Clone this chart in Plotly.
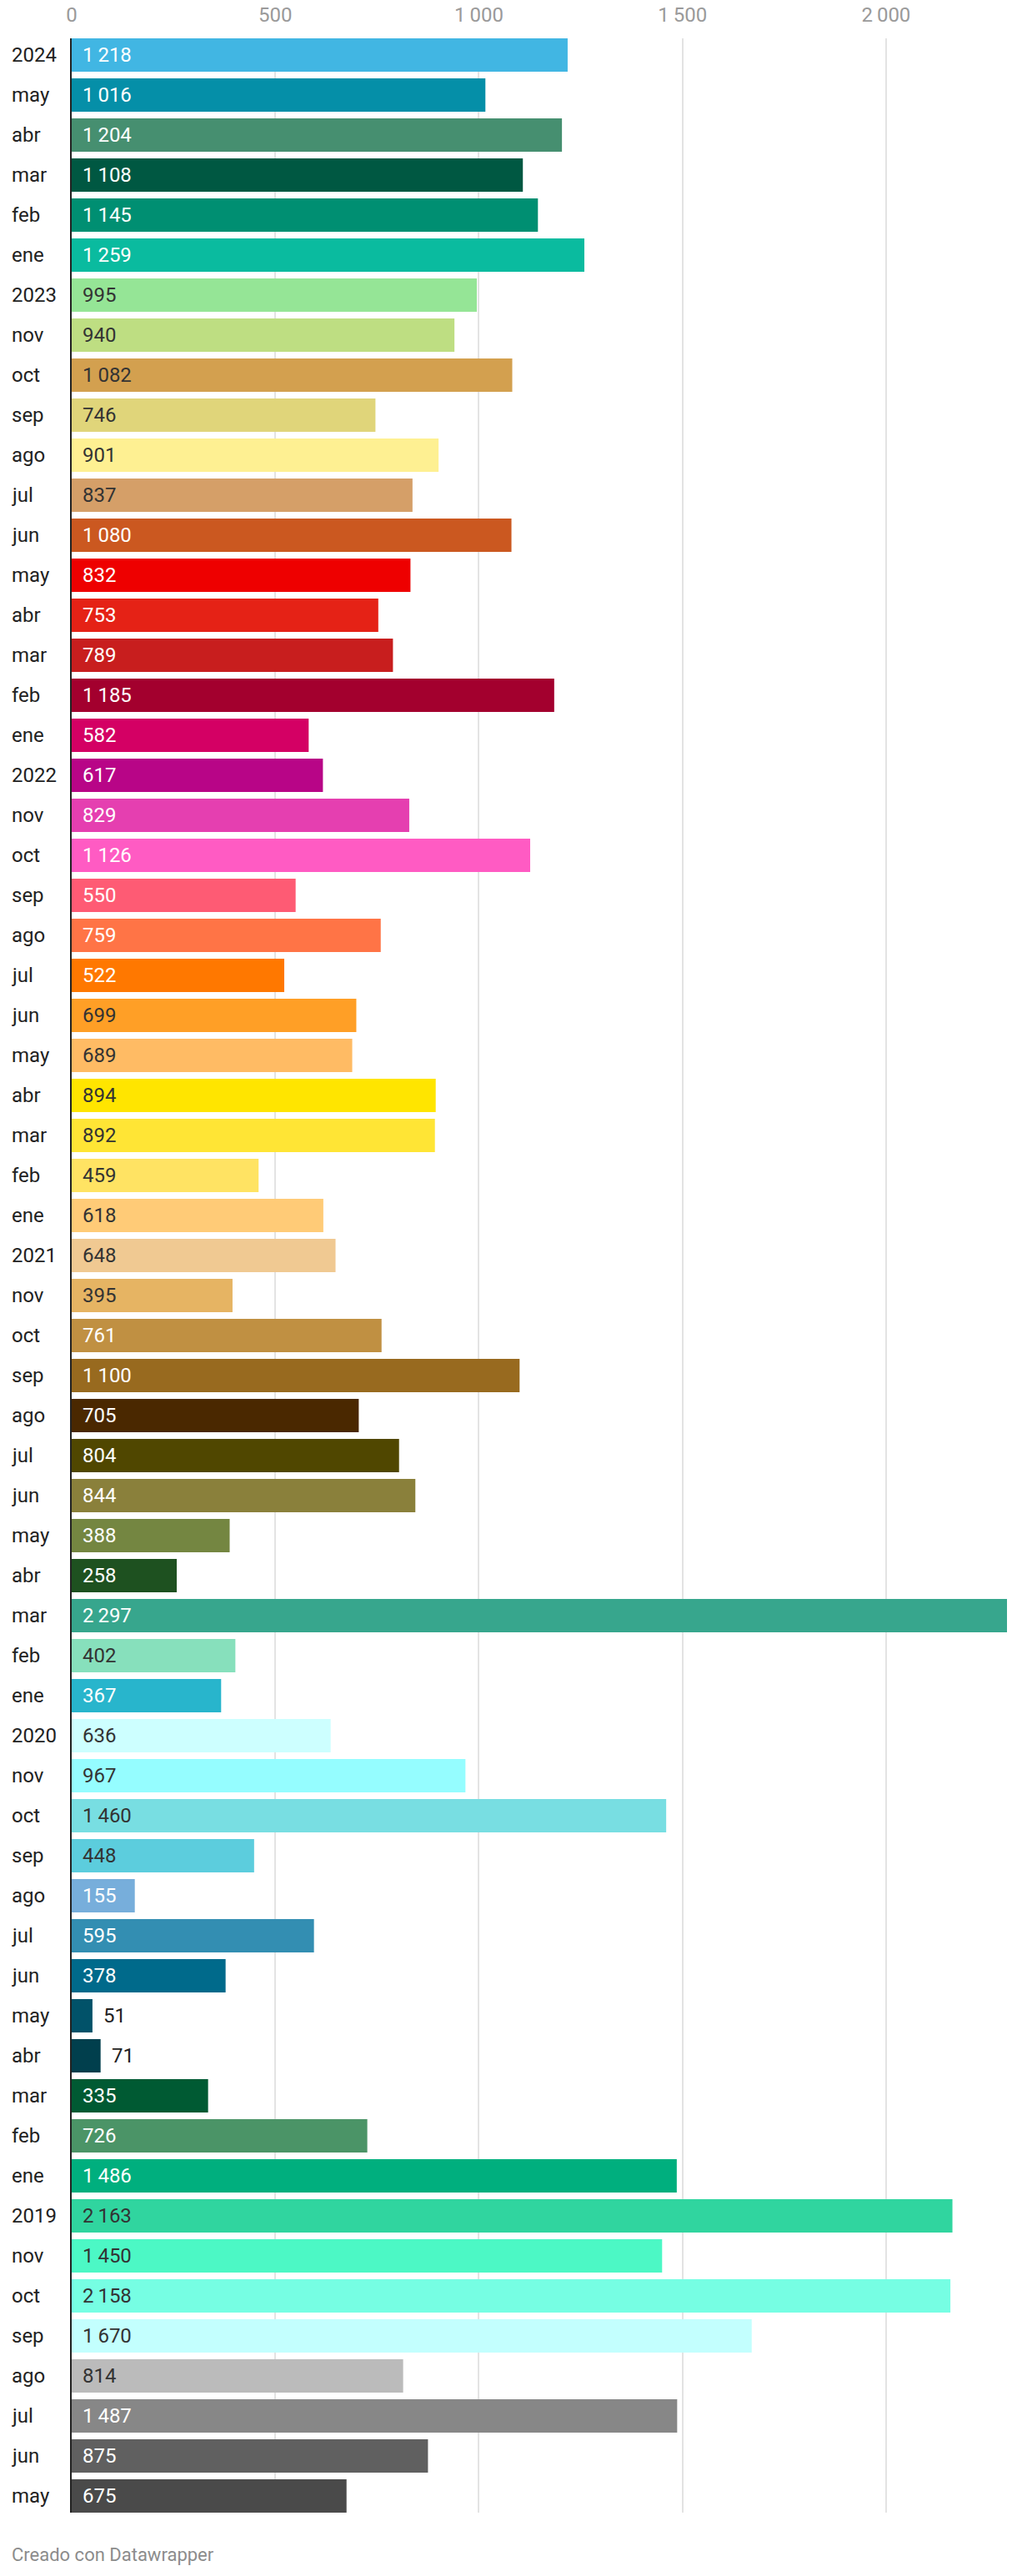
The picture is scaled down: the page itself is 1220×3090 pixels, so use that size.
import plotly.graph_objects as go

labels = ["2024", "may", "abr", "mar", "feb", "ene",
          "2023", "nov", "oct", "sep", "ago", "jul", "jun", "may", "abr", "mar", "feb", "ene",
          "2022", "nov", "oct", "sep", "ago", "jul", "jun", "may", "abr", "mar", "feb", "ene",
          "2021", "nov", "oct", "sep", "ago", "jul", "jun", "may", "abr", "mar", "feb", "ene",
          "2020", "nov", "oct", "sep", "ago", "jul", "jun", "may", "abr", "mar", "feb", "ene",
          "2019", "nov", "oct", "sep", "ago", "jul", "jun", "may"]

values = [1218, 1016, 1204, 1108, 1145, 1259,
          995, 940, 1082, 746, 901, 837, 1080, 832, 753, 789, 1185, 582,
          617, 829, 1126, 550, 759, 522, 699, 689, 894, 892, 459, 618,
          648, 395, 761, 1100, 705, 804, 844, 388, 258, 2297, 402, 367,
          636, 967, 1460, 448, 155, 595, 378, 51, 71, 335, 726, 1486,
          2163, 1450, 2158, 1670, 814, 1487, 875, 675]

colors = ["#41b6e3", "#058fa8", "#468f70", "#005842", "#008f72", "#0abb9f",
          "#95e596", "#bede82", "#d3a04f", "#e0d57a", "#fef092", "#d59f68", "#cb5820",
          "#ee0000", "#e52216", "#c81e1e", "#a3002e", "#d40064",
          "#b80587", "#e53fb0", "#ff5bc3", "#fe5b74", "#ff7446", "#ff7800", "#ff9f26",
          "#ffbb64", "#ffe500", "#ffe535", "#ffe363", "#ffcb77",
          "#f0c992", "#e6b463", "#c09042", "#986a1f", "#4a2800", "#504700", "#8a803b",
          "#748641", "#1e5120", "#37a68d", "#87e0bc", "#28b5cc",
          "#cdffff", "#95fdff", "#78dee2", "#5ccddd", "#77aedb", "#338eb2", "#006a8b",
          "#015269", "#013f4d", "#005a33", "#4b9467", "#00af7e",
          "#30d59f", "#4cf8c5", "#76fee3", "#c3fffe", "#bbbbbb", "#878787", "#606060", "#4a4a4a"]

# label colour on the bar: True = white text, False = dark text
white_text = [True, True, True, True, True, True,
              False, False, False, False, False, False, True,
              True, True, True, True, True,
              True, True, True, True, True, True, False,
              False, False, False, False, False,
              False, False, True, True, True, True, True,
              True, True, True, False, True,
              False, False, False, False, True, True, True,
              False, False, True, True, True,
              False, False, False, False, False, True, True, True]

# bars whose value label sits outside the bar
outside = [v < 100 for v in values]

tick_vals = [0, 500, 1000, 1500, 2000]
tick_text = ["0", "500", "1\u2009000", "1\u2009500", "2\u2009000"]

footer = "Creado con Datawrapper"

def fmt(v):
    s = f"{v:,}"
    return s.replace(",", "\u2009")

FONT = "Roboto"
W, H = 1220, 3090
L, R, T, B = 86, 12, 46, 76
n = len(values)
ypos = list(range(n))

fig = go.Figure()
fig.add_trace(go.Bar(
    x=values, y=ypos, orientation="h",
    marker=dict(color=colors, line=dict(width=0)),
    hoverinfo="skip",
))

annotations = []
plot_w = W - L - R
plot_h = H - T - B
for i, (lab, v) in enumerate(zip(labels, values)):
    annotations.append(dict(
        x=(12 - L) / plot_w, xref="paper", y=i, yref="y",
        text=lab, showarrow=False, xanchor="left", yanchor="middle",
        font=dict(family=FONT, size=24, color="#222222"),
    ))
    if outside[i]:
        annotations.append(dict(
            x=v, xref="x", y=i, yref="y", xshift=11,
            text=fmt(v), showarrow=False, xanchor="left", yanchor="middle",
            font=dict(family=FONT, size=24, color="#222222"),
        ))
    else:
        annotations.append(dict(
            x=0, xref="x", y=i, yref="y", xshift=11,
            text=fmt(v), showarrow=False, xanchor="left", yanchor="middle",
            font=dict(family=FONT, size=24,
                      color="#ffffff" if white_text[i] else "#333333"),
        ))

annotations.append(dict(
    x=(12 - L) / plot_w, xref="paper", y=-(3064 - (H - B)) / plot_h, yref="paper",
    text=footer, showarrow=False, xanchor="left", yanchor="middle",
    font=dict(family=FONT, size=22, color="#8c8c8c"),
))

half = 0.5 - 0.1667 / 2
fig.update_layout(
    width=W, height=H,
    margin=dict(l=L, r=R, t=T, b=B, autoexpand=False),
    paper_bgcolor="white", plot_bgcolor="white",
    bargap=0.1667,
    showlegend=False,
    annotations=annotations,
    xaxis=dict(
        side="top", range=[0, max(values)],
        tickvals=tick_vals, ticktext=tick_text,
        showgrid=True, gridcolor="#e3e3e3", gridwidth=2,
        zeroline=False, showline=False, ticks="",
        ticklabelstandoff=14, automargin=False,
        tickfont=dict(family=FONT, size=24, color="#9a9a9a"),
        fixedrange=True,
    ),
    yaxis=dict(
        range=[n - 1 + half, -half],
        showticklabels=False, showgrid=False, zeroline=False,
        showline=True, linecolor="#222222", linewidth=2,
        ticks="", fixedrange=True, automargin=False,
    ),
)

fig.write_html(
    "out.html",
    config={"displayModeBar": False},
    post_script="document.body.style.margin='0';document.body.style.overflow='hidden';",
)
